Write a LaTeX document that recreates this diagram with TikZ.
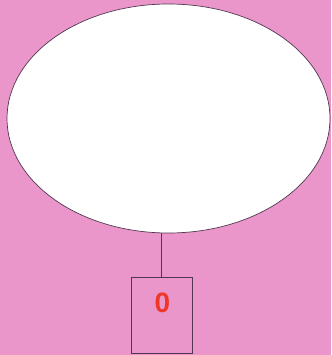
\documentclass[tikz,border=0pt]{standalone}
\usepackage{fontspec}
\setsansfont{Liberation Sans}
\usetikzlibrary{shapes.geometric}

\definecolor{pagepink}{RGB}{234,150,202}
\definecolor{inkline}{RGB}{80,55,80}
\definecolor{digitred}{RGB}{238,55,40}

\begin{document}
\begin{tikzpicture}[
    x=1pt, y=-1pt,
    oval/.style={
        ellipse,
        draw=inkline,
        line width=0.7pt,
        fill=white,
        inner sep=0pt,
        minimum width=323pt,
        minimum height=229pt
    },
    boxnode/.style={
        rectangle,
        draw=inkline,
        line width=0.7pt,
        inner sep=0pt,
        minimum width=61pt,
        minimum height=76pt
    },
    digit/.style={
        font=\sffamily\bfseries\fontsize{28}{28}\selectfont,
        text=digitred,
        inner sep=0pt
    }
]

    % Background
    \fill[pagepink] (0,0) rectangle (331,355);
    \useasboundingbox (0,0) rectangle (331,355);

    % Nodes
    \node[oval] (ring) at (168.5,118.5) {};
    \node[boxnode] (box) at (161.5,315) {};
    \node[digit] (zero) at (162.5,303) {0};

    % Link
    \draw[inkline, line width=0.9pt] (box.north) -- (box.north |- ring.south);

\end{tikzpicture}
\end{document}
